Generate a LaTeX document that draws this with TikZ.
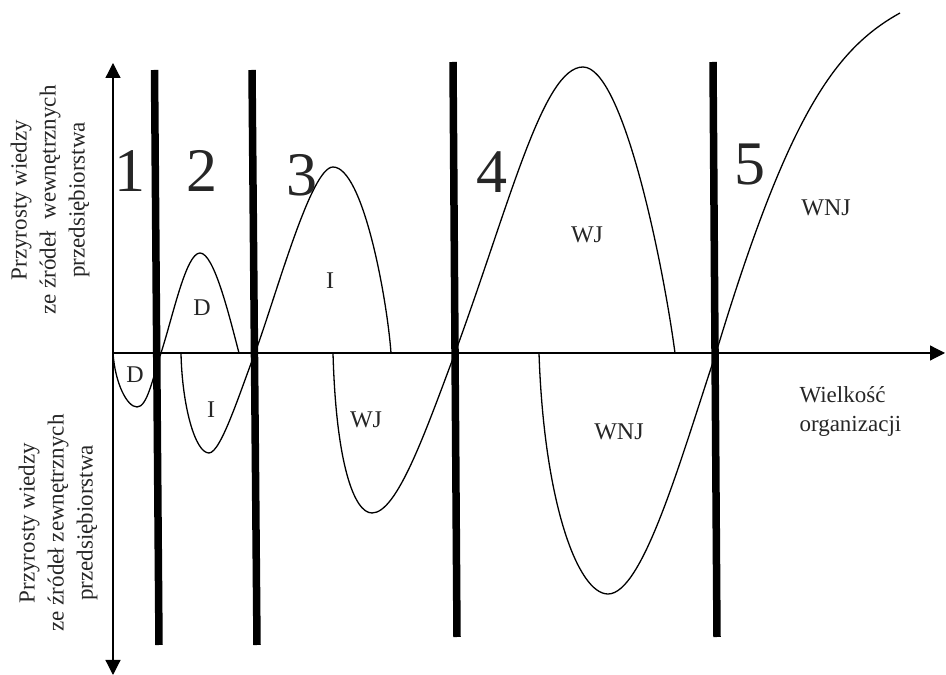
\documentclass[tikz,border=0pt]{standalone}
\usepackage{fontspec}
\setmainfont{Liberation Serif}
\usetikzlibrary{arrows.meta}

\begin{document}
\begin{tikzpicture}[x=1pt, y=1pt, >={Triangle[length=15pt,width=15pt]},
    curve/.style={line width=1.3pt},
    stage/.style={line width=7.5pt},
    lbl/.style={font=\fontsize{23}{29}\selectfont, text=black!85, align=center},
    tag/.style={font=\fontsize{24}{24}\selectfont, text=black!85},
    num/.style={font=\fontsize{62}{62}\selectfont, text=black!85}]
    \useasboundingbox (0,0) rectangle (946,675);
    \coordinate (O) at (113,322);
    \coordinate (Ytop) at (113,612);
    \coordinate (Ybot) at (113,0);
    \coordinate (Xend) at (945,322);

    \draw[<->, line width=1.2pt] (Ybot) -- (Ytop);
    \draw[->, line width=1.2pt] (O) -- (Xend);

    \draw[curve] (O) .. controls +(2,-30) and +(-10,0) .. (137,268)
        .. controls +(10,0) and +(-9,-28) .. (161,322)
        .. controls +(12,37) and +(-14,0) .. (200,422)
        .. controls +(14,0) and +(-10,38) .. (239,322);
    \draw[curve] (181,322) .. controls +(1,-52) and +(-14,0) .. (209,222)
        .. controls +(12,0) and +(-14,-36) .. (255,322)
        .. controls +(22,60) and +(-22,0) .. (333,508)
        .. controls +(30,0) and +(-4,55) .. (391,322);
    \draw[curve] (333,322) .. controls +(3,-110) and +(-18,0) .. (372,162)
        .. controls +(25,0) and +(-30,-80) .. (455,322)
        .. controls +(55,150) and +(-40,0) .. (583,608)
        .. controls +(40,0) and +(-12,90) .. (675,322);
    \draw[curve] (539,322) .. controls +(5,-150) and +(-30,0) .. (608,81)
        .. controls +(35,0) and +(-35,-105) .. (716,322)
        .. controls +(72,238) and +(-65,-36) .. (900,662);

    \draw[stage] (154.5,605) -- (159,30);
    \draw[stage] (252,605) -- (257,30);
    \draw[stage] (453,613) -- (457,38);
    \draw[stage] (713,613) -- (717,38);

    \node[num] (n1) at (130,504) {1};
    \node[num] (n2) at (202,504) {2};
    \node[num] (n3) at (302,500) {3};
    \node[num] (n4) at (492,503) {4};
    \node[num] (n5) at (750,510) {5};

    \node[tag] (dLow) at (135,300) {D};
    \node[tag] (dUp) at (202,367) {D};
    \node[tag] (iLow) at (211,265) {I};
    \node[tag] (iUp) at (330,394) {I};
    \node[tag] (wjLow) at (366,255) {WJ};
    \node[tag] (wjUp) at (587,440) {WJ};
    \node[tag] (wnjLow) at (619,243) {WNJ};
    \node[tag] (wnjUp) at (826,467) {WNJ};

    \node[lbl, align=left, anchor=west] (xlab) at (796,264) {Wielkość\\organizacji};
    \node[lbl, rotate=90] (ylabUp) at (50,475) {Przyrosty wiedzy\\ze źródeł\ \ wewnętrznych\\przedsiębiorstwa};
    \node[lbl, rotate=90] (ylabDown) at (58,152) {Przyrosty wiedzy\\ze źródeł zewnętrznych\\przedsiębiorstwa};
\end{tikzpicture}
\end{document}
